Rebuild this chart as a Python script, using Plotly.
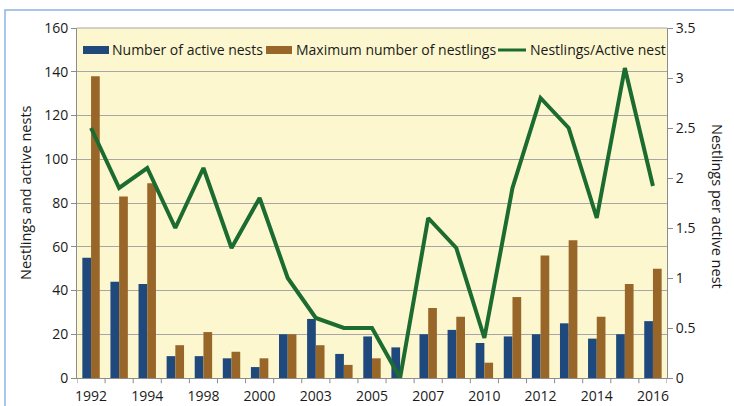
import plotly.graph_objects as go

years = ["1992", "1993", "1994", "1996", "1998", "1999", "2000", "2002", "2003", "2004",
         "2005", "2006", "2007", "2009", "2010", "2011", "2012", "2013", "2014", "2015", "2016"]
tick_labels = ["1992", "", "1994", "", "1998", "", "2000", "", "2003", "", "2005", "",
               "2007", "", "2010", "", "2012", "", "2014", "", "2016"]
active_nests = [55, 44, 43, 10, 10, 9, 5, 20, 27, 11, 19, 14, 20, 22, 16, 19, 20, 25, 18, 20, 26]
max_nestlings = [138, 83, 89, 15, 21, 12, 9, 20, 15, 6, 9, 0, 32, 28, 7, 37, 56, 63, 28, 43, 50]
ratio = [2.5, 1.9, 2.1, 1.5, 2.1, 1.3, 1.8, 1.0, 0.6, 0.5, 0.5, 0.0, 1.6, 1.3, 0.4, 1.9,
         2.8, 2.5, 1.6, 3.1, 1.92]
series_names = ["Number of active nests", "Maximum number of nestlings", "Nestlings/Active nest"]
colors = ["#1F497D", "#996629", "#1C6B30"]

idx = list(range(len(years)))
font = "Open Sans, Noto Sans, sans-serif"
txt = "#1a1a1a"

fig = go.Figure()
fig.add_trace(go.Bar(x=idx, y=active_nests, name=series_names[0],
                     marker=dict(color=colors[0], line=dict(width=0))))
fig.add_trace(go.Bar(x=idx, y=max_nestlings, name=series_names[1],
                     marker=dict(color=colors[1], line=dict(width=0))))
fig.add_trace(go.Scatter(x=idx, y=ratio, name=series_names[2], yaxis="y2",
                         mode="lines", line=dict(color=colors[2], width=4)))

fig.update_layout(
    width=734, height=406,
    margin=dict(l=77, r=67, t=28, b=28, autoexpand=False),
    paper_bgcolor="white",
    plot_bgcolor="#FCF7CE",
    barmode="group",
    bargap=0.38,
    bargroupgap=0,
    font=dict(family=font, size=14, color=txt),
    showlegend=False,
    xaxis=dict(tickmode="array", tickvals=idx, ticktext=tick_labels,
               range=[-0.5, len(years) - 0.5], showgrid=False,
               showline=True, linecolor="#8c8c8c", linewidth=1,
               ticks="outside", ticklen=5, tickcolor="rgba(0,0,0,0)",
               tickfont=dict(size=14), zeroline=False, automargin=False),
    yaxis=dict(range=[0, 160], dtick=20, showgrid=True, gridcolor="#a6a6a6", gridwidth=1,
               showline=True, linecolor="#8c8c8c", ticks="outside", ticklen=5,
               tickcolor="#8c8c8c", zeroline=False, automargin=False,
               tickfont=dict(size=14)),
    yaxis2=dict(range=[0, 3.5], dtick=0.5, overlaying="y", side="right", showgrid=False,
                showline=True, linecolor="#8c8c8c", ticks="outside", ticklen=5,
                tickcolor="#8c8c8c", zeroline=False, automargin=False,
                tickfont=dict(size=14)),
)

def px_x(px):
    return (px - 77) / 590.0

def px_y(py):
    return (378 - py) / 350.0

shapes = []
# tick marks at category boundaries
for i in range(len(years) + 1):
    shapes.append(dict(type="line", xref="x", yref="paper", x0=i - 0.5, x1=i - 0.5,
                       y0=0, y1=-0.015, line=dict(color="#8c8c8c", width=1)))
# top border of plot area
shapes.append(dict(type="line", xref="paper", yref="paper", x0=0, x1=1, y0=1, y1=1,
                   line=dict(color="#a6a6a6", width=1)))
# outer frame
shapes.append(dict(type="rect", xref="paper", yref="paper", x0=px_x(5), x1=1.3,
                   y0=-0.3, y1=px_y(10), line=dict(color="#8DB3E2", width=1.5),
                   fillcolor="rgba(0,0,0,0)", layer="below"))

# legend drawn inside the plot area
ly = px_y(50)
shapes.append(dict(type="rect", xref="paper", yref="paper", x0=px_x(83), x1=px_x(109),
                   y0=px_y(54), y1=px_y(46), fillcolor=colors[0], line=dict(width=0)))
shapes.append(dict(type="rect", xref="paper", yref="paper", x0=px_x(266), x1=px_x(292),
                   y0=px_y(54), y1=px_y(46), fillcolor=colors[1], line=dict(width=0)))
shapes.append(dict(type="line", xref="paper", yref="paper", x0=px_x(498), x1=px_x(526),
                   y0=ly, y1=ly, line=dict(color=colors[2], width=3)))
fig.update_layout(shapes=shapes)

annotations = []
for name, xpx in zip(series_names, [110, 294, 528]):
    annotations.append(dict(text=name, xref="paper", yref="paper", x=px_x(xpx), y=ly,
                            xanchor="left", yanchor="middle", showarrow=False,
                            font=dict(size=14, color=txt)))
annotations.append(dict(text="Nestlings and active nests", xref="paper", yref="paper",
                        x=px_x(25), y=px_y(193), textangle=-90, showarrow=False,
                        xanchor="center", yanchor="middle", font=dict(size=14.5, color=txt)))
annotations.append(dict(text="Nestlings per active nest", xref="paper", yref="paper",
                        x=px_x(718), y=px_y(206), textangle=90, showarrow=False,
                        xanchor="center", yanchor="middle", font=dict(size=14.5, color=txt)))
fig.update_layout(annotations=annotations)

fig.write_html("out.html", config={"displayModeBar": False},
               post_script="document.body.style.margin='0px';")
